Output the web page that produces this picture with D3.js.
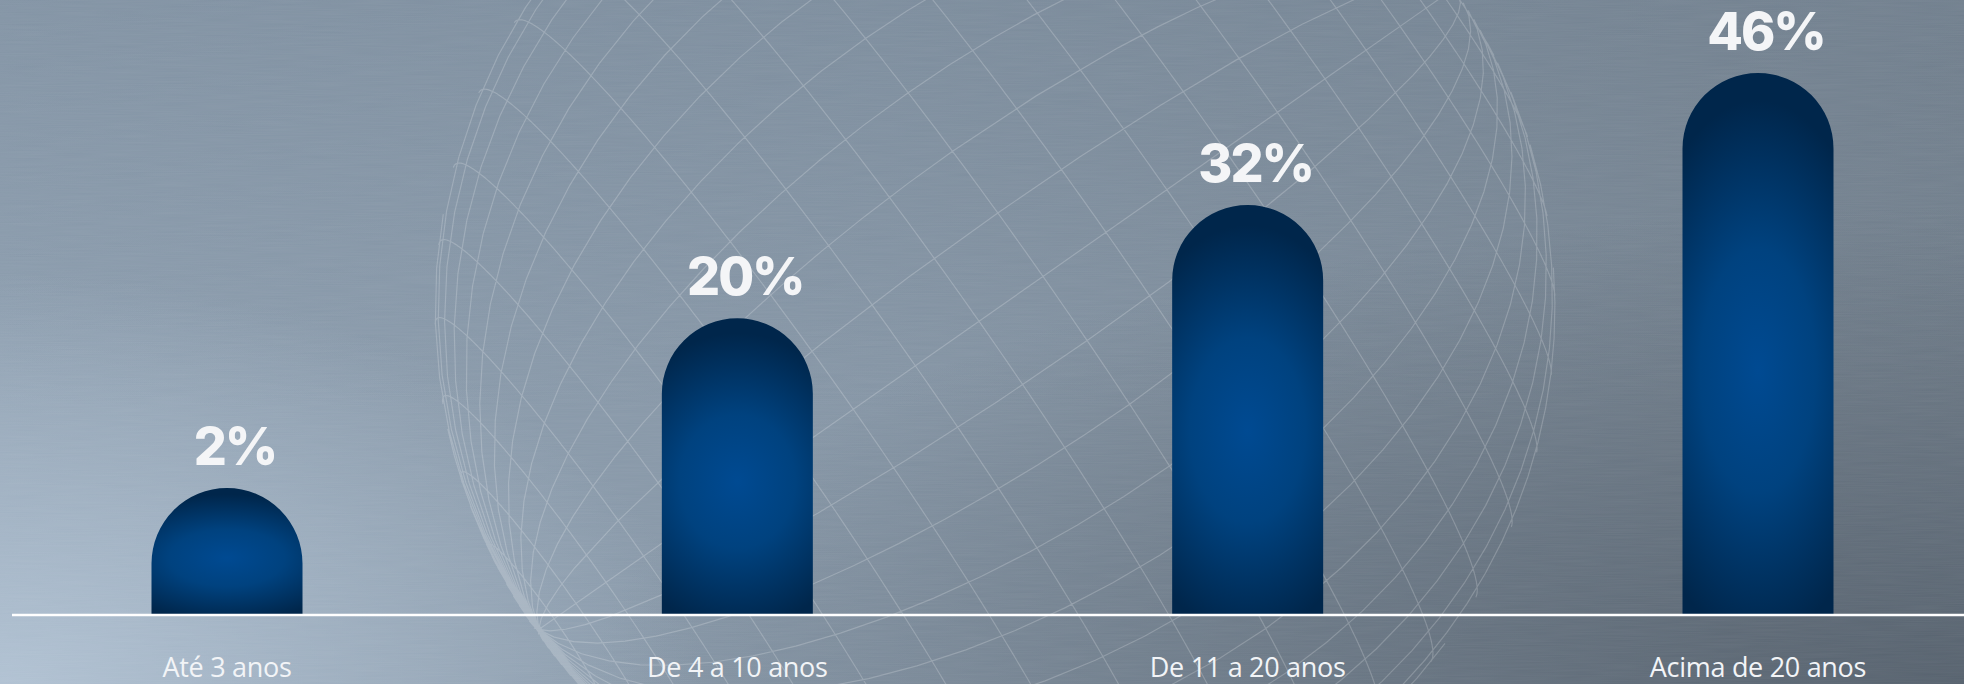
<!DOCTYPE html>
<html>
<head>
<meta charset="utf-8">
<title>Tempo de casa</title>
<script src="https://cdn.jsdelivr.net/npm/d3@7/dist/d3.min.js"></script>
<style>
  html, body { margin: 0; padding: 0; background: #8696a6; overflow: hidden; }
  svg { display: block; }
</style>
</head>
<body>
<div id="chart"></div>
<script>
// data
var categories = ["Até 3 anos", "De 4 a 10 anos", "De 11 a 20 anos", "Acima de 20 anos"];
var values = [2, 20, 32, 46];
var valueLabels = ["2%", "20%", "32%", "46%"];

var W = 1964, H = 684;
var baseY = 615;      // the white base line
var barW = 151;

var svg = d3.select("#chart").append("svg")
  .attr("width", W).attr("height", H);
var defs = svg.append("defs");

// background: brushed steel, light at bottom-left, darker to the right
var bg = defs.append("linearGradient").attr("id", "bg")
  .attr("x1", 0).attr("y1", 0).attr("x2", 1).attr("y2", 0);
bg.append("stop").attr("offset", 0).attr("stop-color", "#8e9fb0");
bg.append("stop").attr("offset", 0.45).attr("stop-color", "#8595a5");
bg.append("stop").attr("offset", 1).attr("stop-color", "#727f8c");

var glowL = defs.append("radialGradient").attr("id", "glowL")
  .attr("cx", 0).attr("cy", 1).attr("r", 0.6)
  .attr("gradientTransform", "scale(0.6,1)");
glowL.append("stop").attr("offset", 0).attr("stop-color", "#b4c5d6").attr("stop-opacity", 0.9);
glowL.append("stop").attr("offset", 1).attr("stop-color", "#b4c5d6").attr("stop-opacity", 0);

var darkR = defs.append("radialGradient").attr("id", "darkR")
  .attr("cx", 1).attr("cy", 1).attr("r", 0.7);
darkR.append("stop").attr("offset", 0).attr("stop-color", "#4f5a66").attr("stop-opacity", 0.8);
darkR.append("stop").attr("offset", 1).attr("stop-color", "#4f5a66").attr("stop-opacity", 0);

var topShade = defs.append("linearGradient").attr("id", "topShade")
  .attr("x1", 0).attr("y1", 0).attr("x2", 0).attr("y2", 1);
topShade.append("stop").attr("offset", 0).attr("stop-color", "#6d7e8f").attr("stop-opacity", 0.35);
topShade.append("stop").attr("offset", 0.6).attr("stop-color", "#6d7e8f").attr("stop-opacity", 0);

// fine horizontal streak noise for the brushed look
var brush = defs.append("filter").attr("id", "brush")
  .attr("x", 0).attr("y", 0).attr("width", 1).attr("height", 1);
brush.append("feTurbulence").attr("type", "fractalNoise")
  .attr("baseFrequency", "0.02 0.9").attr("numOctaves", 2).attr("seed", 4);
brush.append("feColorMatrix").attr("type", "matrix")
  .attr("values", "0 0 0 0 1  0 0 0 0 1  0 0 0 0 1  0 0 0 0.06 0");

svg.append("rect").attr("width", W).attr("height", H).attr("fill", "url(#bg)");
svg.append("rect").attr("width", W).attr("height", H).attr("fill", "url(#topShade)");
svg.append("rect").attr("width", W).attr("height", H).attr("fill", "url(#glowL)");
svg.append("rect").attr("width", W).attr("height", H).attr("fill", "url(#darkR)");
svg.append("rect").attr("width", W).attr("height", H).attr("filter", "url(#brush)");

// decorative wire globe behind the bars, poles sitting on the limb
var proj = d3.geoOrthographic()
  .scale(560)
  .translate([995, 310])
  .rotate([0, 6, -55])
  .clipAngle(90);
svg.append("path")
  .datum(d3.geoGraticule().step([8, 8]).precision(1)())
  .attr("d", d3.geoPath(proj))
  .attr("fill", "none")
  .attr("stroke", "#ffffff")
  .attr("stroke-opacity", 0.2)
  .attr("stroke-width", 1.2);

// scales
var x = d3.scalePoint().domain(categories).range([227, 1758]);
var y = d3.scaleLinear().domain([0, d3.max(values)]).range([baseY - 108, 73]);

// bar fill: blue glow in the middle, navy to top and bottom
var barGrad = defs.append("radialGradient").attr("id", "barGrad")
  .attr("cx", 0.5).attr("cy", 0.55).attr("r", 0.5)
  .attr("gradientTransform", "translate(0.5,0.55) scale(1.7,1) translate(-0.5,-0.55)");
barGrad.append("stop").attr("offset", 0).attr("stop-color", "#004a92");
barGrad.append("stop").attr("offset", 0.45).attr("stop-color", "#00427f");
barGrad.append("stop").attr("offset", 1).attr("stop-color", "#00264b");

function pillPath(cx, top, w) {
  var r = w / 2;
  var p = d3.path();
  p.moveTo(cx - r, baseY);
  p.lineTo(cx - r, top + r);
  p.arc(cx, top + r, r, Math.PI, 0);
  p.lineTo(cx + r, baseY);
  p.closePath();
  return p.toString();
}

var data = categories.map(function (c, i) {
  return { cat: c, value: values[i], label: valueLabels[i] };
});

svg.append("g").selectAll("path")
  .data(data)
  .join("path")
  .attr("d", function (d) { return pillPath(x(d.cat), y(d.value), barW); })
  .attr("fill", "url(#barGrad)");

// value labels
svg.append("g").selectAll("text")
  .data(data)
  .join("text")
  .attr("x", function (d) { return x(d.cat) + 8; })
  .attr("y", function (d) { return y(d.value) - 23; })
  .attr("text-anchor", "middle")
  .style("font-family", "Inter, 'Open Sans', sans-serif")
  .style("font-weight", 800)
  .style("font-size", "52px")
  .style("letter-spacing", "-2px")
  .style("fill", "#f4f5f7")
  .text(function (d) { return d.label; });

// base line
svg.append("line")
  .attr("x1", 12).attr("x2", W)
  .attr("y1", baseY).attr("y2", baseY)
  .attr("stroke", "#ffffff")
  .attr("stroke-width", 2.5);

// category labels
svg.append("g").selectAll("text")
  .data(categories)
  .join("text")
  .attr("x", function (d) { return x(d); })
  .attr("y", 677)
  .attr("text-anchor", "middle")
  .style("font-family", "'Open Sans', sans-serif")
  .style("font-weight", 400)
  .style("font-size", "27px")
  .style("letter-spacing", "-0.3px")
  .style("fill", "#f2f4f7")
  .text(function (d) { return d; });
</script>
</body>
</html>
